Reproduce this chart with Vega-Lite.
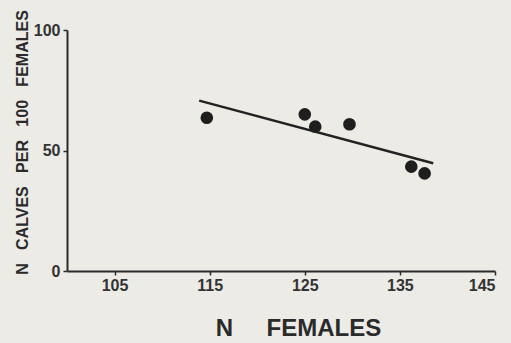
{
  "$schema": "https://vega.github.io/schema/vega-lite/v6.json",
  "width": 428,
  "height": 241,
  "autosize": {"type": "none"},
  "padding": {"left": 67, "top": 30, "right": 16, "bottom": 72},
  "background": "#ecebe6",
  "config": {
    "view": {"stroke": null},
    "font": "Liberation Sans",
    "axis": {
      "grid": false,
      "domainColor": "#2a2a2a",
      "domainWidth": 2,
      "tickColor": "#2a2a2a",
      "tickWidth": 1.5,
      "tickSize": 4,
      "labelFont": "Liberation Sans",
      "labelFontSize": 16,
      "labelFontWeight": "bold",
      "labelColor": "#333333",
      "titleFont": "Liberation Sans",
      "titleFontWeight": "bold",
      "titleColor": "#2a2a2a"
    }
  },
  "datasets": {
    "points": [
      {"females": 114.7, "calves": 63.6},
      {"females": 125.0, "calves": 65.0},
      {"females": 126.1, "calves": 59.9},
      {"females": 129.7, "calves": 60.9},
      {"females": 136.2, "calves": 43.3},
      {"females": 137.6, "calves": 40.5}
    ],
    "fit": [
      {"females": 113.9, "calves": 70.7},
      {"females": 138.5, "calves": 44.7}
    ]
  },
  "layer": [
    {
      "data": {"name": "fit"},
      "mark": {"type": "line", "color": "#222222", "strokeWidth": 2.5},
      "encoding": {
        "x": {
          "field": "females", "type": "quantitative",
          "scale": {"domain": [100, 145], "nice": false, "zero": false},
          "axis": {
            "values": [105, 115, 125, 135, 145],
            "labelPadding": 2,
            "tickSize": 4,
            "title": "N\u00a0\u00a0\u00a0\u00a0\u00a0FEMALES",
            "titleFontSize": 24,
            "titleX": 231,
            "titleY": 64,
            "titleAlign": "center",
            "titleBaseline": "alphabetic"
          }
        },
        "y": {
          "field": "calves", "type": "quantitative",
          "scale": {"domain": [0, 100], "nice": false},
          "axis": {
            "values": [0, 50, 100],
            "labelPadding": 3,
            "title": "N\u00a0\u00a0\u00a0CALVES\u00a0\u00a0\u00a0PER\u00a0\u00a0\u00a0100\u00a0\u00a0\u00a0FEMALES",
            "titleFontSize": 16,
            "titleAngle": -90,
            "titleX": -40,
            "titleY": 112,
            "titleAlign": "center",
            "titleBaseline": "alphabetic"
          }
        }
      }
    },
    {
      "data": {"name": "points"},
      "mark": {"type": "circle", "color": "#1e1e1e", "opacity": 1, "size": 160},
      "encoding": {
        "x": {"field": "females", "type": "quantitative"},
        "y": {"field": "calves", "type": "quantitative"}
      }
    }
  ]
}
